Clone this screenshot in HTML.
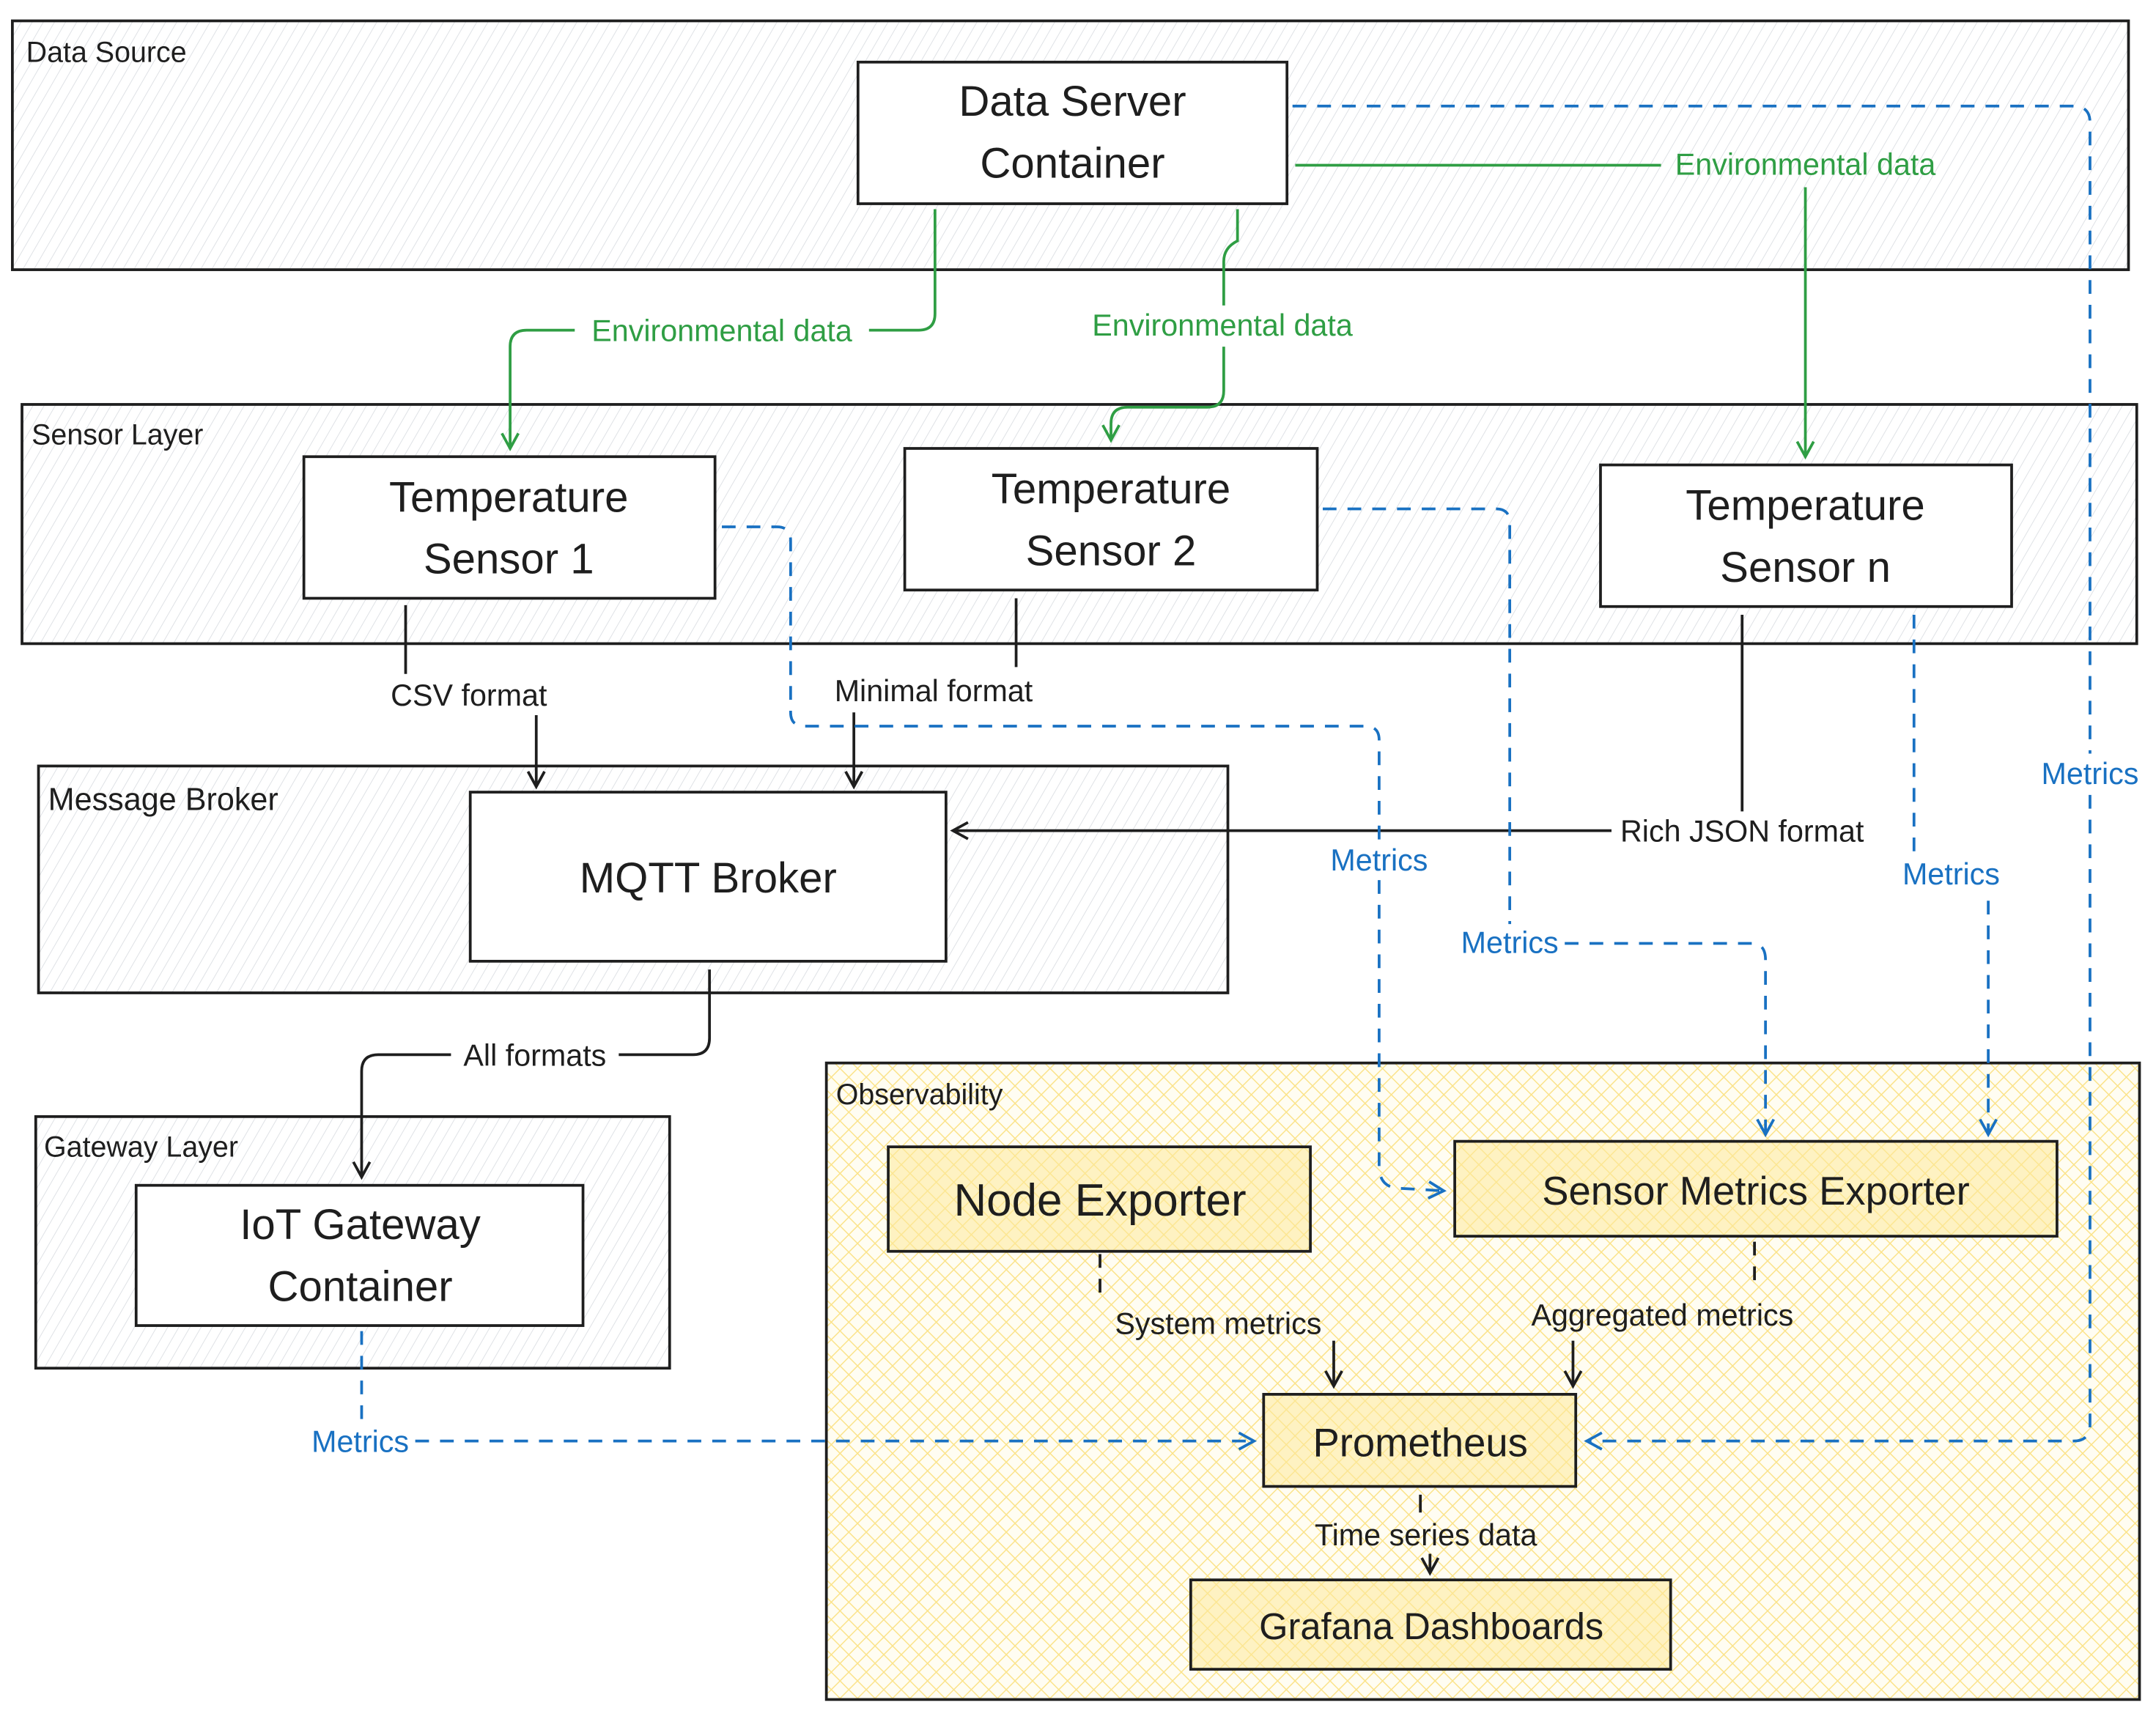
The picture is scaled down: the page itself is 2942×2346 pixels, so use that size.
<!DOCTYPE html>
<html><head><meta charset="utf-8"><style>
html,body{margin:0;padding:0;background:#fff;}
svg{display:block;}
text{font-family:"Liberation Sans","DejaVu Sans",sans-serif;}
</style></head><body>
<svg width="2942" height="2346" viewBox="0 0 1568 1250" xmlns="http://www.w3.org/2000/svg">
<defs>
<pattern id="gh" width="7" height="7" patternUnits="userSpaceOnUse" patternTransform="rotate(30)">
<rect width="7" height="7" fill="#fff"/><line x1="0" y1="0" x2="0" y2="7" stroke="#dde0e4" stroke-width="1"/>
</pattern>
<pattern id="yh" width="9" height="9" patternUnits="userSpaceOnUse" patternTransform="rotate(45)">
<rect width="9" height="9" fill="#fffdf2"/><line x1="0" y1="0" x2="0" y2="9" stroke="#fbe38a" stroke-width="1.6"/><line x1="0" y1="0" x2="9" y2="0" stroke="#fbe38a" stroke-width="1.6"/>
</pattern>
<marker id="ag" markerWidth="14" markerHeight="14" refX="12" refY="7" orient="auto" markerUnits="userSpaceOnUse"><path d="M1,1 L12,7 L1,13" fill="none" stroke="#2f9e44" stroke-width="2"/></marker>
<marker id="ak" markerWidth="14" markerHeight="14" refX="12" refY="7" orient="auto" markerUnits="userSpaceOnUse"><path d="M1,1 L12,7 L1,13" fill="none" stroke="#1e1e1e" stroke-width="2"/></marker>
<marker id="ab" markerWidth="14" markerHeight="14" refX="12" refY="7" orient="auto" markerUnits="userSpaceOnUse"><path d="M1,1 L12,7 L1,13" fill="none" stroke="#1971c2" stroke-width="2"/></marker>
</defs>
<g stroke="#1e1e1e" stroke-width="2">
<rect x="9" y="15" width="1539" height="181" fill="url(#gh)"/>
<rect x="16" y="294" width="1538" height="174" fill="url(#gh)"/>
<rect x="28" y="557" width="865" height="165" fill="url(#gh)"/>
<rect x="26" y="812" width="461" height="183" fill="url(#gh)"/>
<rect x="601" y="773" width="955" height="463" fill="url(#yh)"/>
</g>
<g font-size="21" fill="#1e1e1e">
<text x="19" y="45">Data Source</text>
<text x="23" y="323">Sensor Layer</text>
<text x="35" y="589" font-size="23">Message Broker</text>
<text x="32" y="841">Gateway Layer</text>
<text x="608" y="803">Observability</text>
</g>
<g stroke="#1e1e1e" stroke-width="2" fill="#fff">
<rect x="624" y="45" width="312" height="103"/>
<rect x="221" y="332" width="299" height="103"/>
<rect x="658" y="326" width="300" height="103"/>
<rect x="1164" y="338" width="299" height="103"/>
<rect x="342" y="576" width="346" height="123"/>
<rect x="99" y="862" width="325" height="102"/>
<rect x="646" y="834" width="307" height="76" fill="#fde99a" fill-opacity="0.55"/>
<rect x="1058" y="830" width="438" height="69" fill="#fde99a" fill-opacity="0.55"/>
<rect x="919" y="1014" width="227" height="67" fill="#fde99a" fill-opacity="0.55"/>
<rect x="866" y="1149" width="349" height="65" fill="#fde99a" fill-opacity="0.55"/>
</g>
<g font-size="31" fill="#1e1e1e" text-anchor="middle">
<text x="780" y="84">Data Server</text><text x="780" y="129">Container</text>
<text x="370" y="372">Temperature</text><text x="370" y="417">Sensor 1</text>
<text x="808" y="366">Temperature</text><text x="808" y="411">Sensor 2</text>
<text x="1313" y="378">Temperature</text><text x="1313" y="423">Sensor n</text>
<text x="515" y="649">MQTT Broker</text>
<text x="262" y="901">IoT Gateway</text><text x="262" y="946">Container</text>
<text x="800" y="884" font-size="33">Node Exporter</text>
<text x="1277" y="876" font-size="29">Sensor Metrics Exporter</text>
<text x="1033" y="1059" font-size="29">Prometheus</text>
<text x="1041" y="1192" font-size="27">Grafana Dashboards</text>
</g>
<!-- green -->
<g fill="none" stroke="#2f9e44" stroke-width="2">
<path d="M680,152 V228 Q680,240 668,240 H632"/>
<path d="M418,240 H383 Q371,240 371,252 V326" marker-end="url(#ag)"/>
<path d="M900,152 V175 Q890,180 890,190 V222"/>
<path d="M890,252 V284 Q890,296 878,296 H820 Q808,296 808,308 V320" marker-end="url(#ag)"/>
<path d="M942,120 H1208"/>
<path d="M1313,136 V332" marker-end="url(#ag)"/>
</g>
<g font-size="22" fill="#2f9e44" text-anchor="middle">
<text x="525" y="248">Environmental data</text>
<text x="889" y="244">Environmental data</text>
<text x="1313" y="127">Environmental data</text>
</g>
<!-- black -->
<g fill="none" stroke="#1e1e1e" stroke-width="2">
<path d="M295,440 V490"/><path d="M390,520 V572" marker-end="url(#ak)"/>
<path d="M739,435 V485"/><path d="M621,518 V572" marker-end="url(#ak)"/>
<path d="M1267,447 V590"/><path d="M1172,604 H693" marker-end="url(#ak)"/>
<path d="M516,705 V755 Q516,767 504,767 H450"/>
<path d="M328,767 H275 Q263,767 263,779 V856" marker-end="url(#ak)"/>
<path d="M800,912 V945" stroke-dasharray="10 8"/><path d="M970,975 V1008" marker-end="url(#ak)"/>
<path d="M1276,903 V935" stroke-dasharray="10 8"/><path d="M1144,975 V1008" marker-end="url(#ak)"/>
<path d="M1033,1087 V1100" /><path d="M1040,1130 V1144" marker-end="url(#ak)"/>
</g>
<g font-size="22" fill="#1e1e1e" text-anchor="middle">
<text x="341" y="513">CSV format</text>
<text x="679" y="510">Minimal format</text>
<text x="1267" y="612">Rich JSON format</text>
<text x="389" y="775">All formats</text>
<text x="886" y="970">System metrics</text>
<text x="1209" y="964">Aggregated metrics</text>
<text x="1037" y="1124">Time series data</text>
</g>
<!-- blue -->
<g fill="none" stroke="#1971c2" stroke-width="2" stroke-dasharray="10 8">
<path d="M940,77 H1508 Q1520,77 1520,89 V548"/>
<path d="M1520,578 V1036 Q1520,1048 1508,1048 H1154" marker-end="url(#ab)"/>
<path d="M525,383 H565 Q575,383 575,393 V518 Q575,528 585,528 H993 Q1003,528 1003,538 V612"/>
<path d="M1003,640 V848 Q1003,862 1015,864 L1050,866" marker-end="url(#ab)"/>
<path d="M962,370 H1088 Q1098,370 1098,380 V672"/>
<path d="M1138,686 H1274 Q1284,686 1284,698 V825" marker-end="url(#ab)"/>
<path d="M1392,447 V620"/>
<path d="M1446,655 V825" marker-end="url(#ab)"/>
<path d="M263,968 V1032"/>
<path d="M302,1048 H912" marker-end="url(#ab)"/>
</g>
<g font-size="22" fill="#1971c2" text-anchor="middle">
<text x="1520" y="570">Metrics</text>
<text x="1003" y="633">Metrics</text>
<text x="1098" y="693">Metrics</text>
<text x="1419" y="643">Metrics</text>
<text x="262" y="1056">Metrics</text>
</g>
</svg>
</body></html>
